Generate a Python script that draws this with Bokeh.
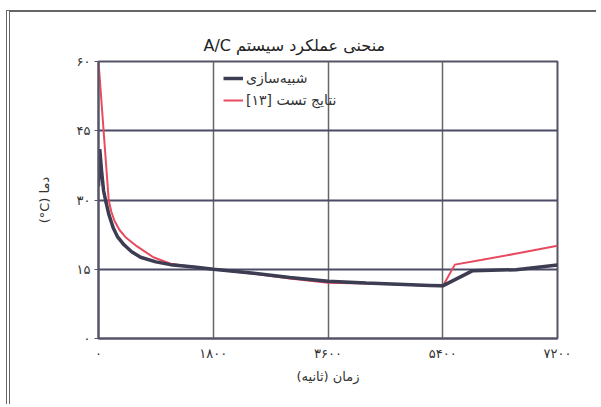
from bokeh.plotting import figure
from bokeh.models import FixedTicker, Legend, LegendItem
from bokeh.embed import file_html
from bokeh.resources import INLINE

# ---- data ----
time_sim = [0, 20, 50, 80, 110, 160, 230, 300, 400, 520, 660, 900, 1130, 1500,
            1800, 2400, 3000, 3600, 4200, 4800, 5200, 5400, 5870, 6550, 7200]
temp_sim = [33, 41, 36, 32, 30, 27.0, 24.0, 22.0, 20.3, 18.8, 17.6, 16.6, 16.0,
            15.5, 15.0, 14.2, 13.2, 12.4, 12.0, 11.7, 11.5, 11.4, 14.7, 14.9, 15.9]

time_test = [0, 80, 160, 200, 250, 330, 420, 600, 860, 1130, 1500, 1800, 2400,
             3000, 3600, 4200, 4800, 5200, 5400, 5590, 6000, 6600, 7200]
temp_test = [60, 45, 30, 27.5, 25.5, 23.5, 22, 20, 17.6, 16.2, 15.5, 15.0, 14.1,
             13.0, 12.1, 11.9, 11.7, 11.4, 11.3, 16.0, 17.0, 18.5, 20.1]

x_ticks = [0, 1800, 3600, 5400, 7200]
x_tick_labels = ["۰", "۱۸۰۰", "۳۶۰۰", "۵۴۰۰", "۷۲۰۰"]
y_ticks = [0, 15, 30, 45, 60]
y_tick_labels = ["۰", "۱۵", "۳۰", "۴۵", "۶۰"]

title_text = "\u202Bمنحنی عملکرد سیستم A/C\u202C"
x_label = "\u202Bزمان (ثانیه)\u202C"
y_label = "(°C) دما"
sim_label = "\u202Bشبیه‌سازی\u202C"
test_label = "\u202Bنتایج تست [۱۳]\u202C"

FONT = "DejaVu Sans"

p = figure(width=590, height=394, output_backend="svg", toolbar_location=None,
           x_range=(0, 7200), y_range=(0, 60),
           min_border_left=88, min_border_right=43, min_border_top=49,
           min_border_bottom=68)
p.styles = {"margin-left": "6px", "margin-top": "10px",
            "border-left": "4px double #666666",
            "border-top": "2px solid #666666"}

p.title.text = title_text
p.title.align = "left"
p.title.offset = 105
p.title.text_font = FONT
p.title.text_font_size = "16px"
p.title.text_font_style = "normal"
p.title.text_color = "#222222"
p.title.vertical_align = "top"
p.title.standoff = 10

p.background_fill_color = "white"
p.border_fill_color = "white"
p.outline_line_color = "#555566"
p.outline_line_width = 2

p.xaxis.ticker = FixedTicker(ticks=x_ticks)
p.yaxis.ticker = FixedTicker(ticks=y_ticks)
p.xaxis.major_label_overrides = dict(zip(x_ticks, x_tick_labels))
p.yaxis.major_label_overrides = dict(zip(y_ticks, y_tick_labels))

for ax in (p.xaxis[0], p.yaxis[0]):
    ax.major_label_text_font = FONT
    ax.major_label_text_font_size = "13px"
    ax.major_label_text_color = "#333333"
    ax.axis_label_text_font = FONT
    ax.axis_label_text_font_size = "13px"
    ax.axis_label_text_font_style = "normal"
    ax.axis_label_text_color = "#333333"
    ax.axis_line_color = "#555566"
    ax.axis_line_width = 2
    ax.minor_tick_line_color = None
    ax.major_tick_in = 0
    ax.major_tick_line_color = "#555566"

p.xaxis.axis_label = x_label
p.yaxis.axis_label = y_label
p.xaxis.major_tick_out = 0
p.yaxis.major_tick_out = 4
p.xaxis.major_label_standoff = 7
p.yaxis.major_label_standoff = 4
p.xaxis.axis_label_standoff = 5
p.yaxis.axis_label_standoff = 22

p.xgrid.grid_line_color = "#666666"
p.xgrid.grid_line_width = 1.5
p.ygrid.grid_line_color = "#4b4b66"
p.ygrid.grid_line_width = 2

r_test = p.line(time_test, temp_test, line_color="#e84a5f", line_width=2)
r_sim = p.line(time_sim, temp_sim, line_color="#3c3c52", line_width=3.5)

legend = Legend(items=[LegendItem(label=sim_label, renderers=[r_sim]),
                       LegendItem(label=test_label, renderers=[r_test])],
                location=(125, 230))
legend.background_fill_alpha = 0
legend.border_line_alpha = 0
legend.label_text_font = FONT
legend.label_text_font_size = "14px"
legend.label_text_color = "#333333"
legend.glyph_width = 20
legend.glyph_height = 14
legend.spacing = 6
legend.padding = 0
legend.margin = 0
legend.label_standoff = 3
p.add_layout(legend, "center")

open("out.html", "w").write(file_html(p, INLINE))
